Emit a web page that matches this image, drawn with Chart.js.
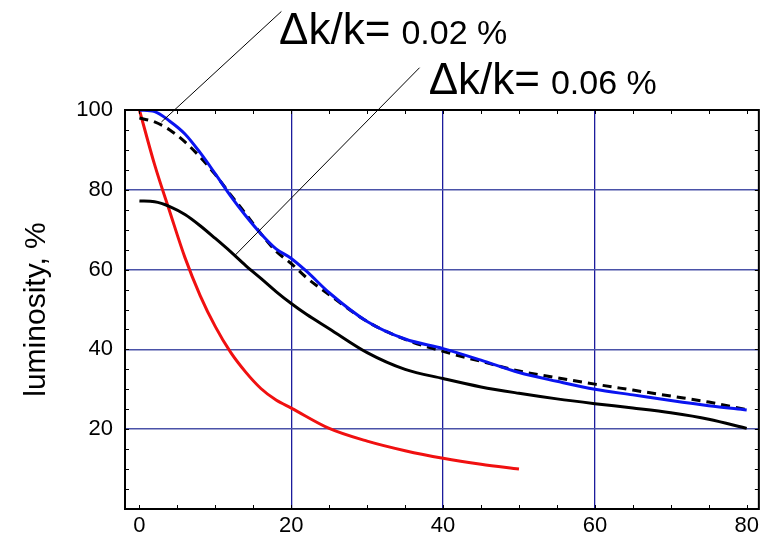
<!DOCTYPE html>
<html>
<head>
<meta charset="utf-8">
<script src="https://cdn.jsdelivr.net/npm/chart.js@4.4.1/dist/chart.umd.min.js"></script>
<style>
  html, body { margin: 0; padding: 0; background: #fff; }
  #wrap { width: 763px; height: 536px; }
</style>
</head>
<body>
<div id="wrap"><canvas id="lumChart" width="763" height="536"></canvas></div>
<script>
const xTicks = [0, 20, 40, 60, 80];
const yTicks = [20, 40, 60, 80, 100];

// common x grid for the blue, dashed and black curves
const doseX = [0, 2, 4, 6, 8, 10, 12, 14, 16, 18, 20, 22, 25, 30, 35, 40, 45, 50, 55, 60, 65, 70, 75, 80];
const blueY = [100, 99.6, 97.2, 94, 89.3, 84, 78.5, 73.5, 69, 65.2, 62.8, 59.6, 54.2, 47, 42.6, 40.2, 37.3, 34.2, 32, 30, 28.6, 27.2, 25.9, 24.8];
const dashedY = [98, 97, 95, 92, 88.2, 83.8, 78.8, 74, 69, 64.6, 61.5, 58, 53.7, 47, 42.5, 39.5, 37, 34.6, 32.9, 31.3, 29.8, 28.3, 26.8, 24.9];
const blackY = [77.2, 77, 75.8, 73.8, 71, 67.8, 64.5, 61, 57.8, 54.5, 51.5, 48.8, 45.2, 39.2, 35, 32.7, 30.6, 29, 27.6, 26.4, 25.3, 24.1, 22.5, 20.2];

const redX = [0, 2, 4, 6, 8, 10, 12, 14, 16, 18, 20, 25, 30, 35, 40, 45, 50];
const redY = [100, 86.3, 74.5, 63, 53.5, 45.7, 39.3, 34.3, 30.2, 27.3, 25.3, 20.2, 17, 14.6, 12.7, 11.2, 10];

const pts = (xs, ys) => xs.map((x, i) => ({ x: x, y: ys[i] }));

const FONT = "'Liberation Sans', Arial, Helvetica, sans-serif";
const GRID = "#1c1c9c";

// box, inward ticks and the two labelled leaders
const framePlugin = {
  id: "frame",
  afterDraw(chart) {
    const { ctx, chartArea: a, scales: { x, y } } = chart;
    ctx.save();
    ctx.strokeStyle = "#000";
    ctx.lineWidth = 1;
    ctx.beginPath();
    for (let v = 0; v <= 80; v += 5) {
      const px = Math.round(x.getPixelForValue(v)) + 0.5;
      ctx.moveTo(px, a.bottom); ctx.lineTo(px, a.bottom - 4);
      ctx.moveTo(px, a.top); ctx.lineTo(px, a.top + 4);
    }
    for (let v = 5; v < 100; v += 5) {
      const py = Math.round(y.getPixelForValue(v)) + 0.5;
      ctx.moveTo(a.left, py); ctx.lineTo(a.left + 4, py);
      ctx.moveTo(a.right, py); ctx.lineTo(a.right - 4, py);
    }
    ctx.stroke();
    ctx.lineWidth = 2;
    ctx.strokeRect(a.left, a.top, a.right - a.left, a.bottom - a.top);

    const notes = [
      { text: "0.02 %", tx: 18.4, ty: 116.5, from: [18.7, 124.7], to: [2.9, 97.0] },
      { text: "0.06 %", tx: 38.1, ty: 104.0, from: [36.9, 110.6], to: [12.6, 63.6] }
    ];
    notes.forEach((n) => {
      ctx.lineWidth = 1;
      ctx.beginPath();
      ctx.moveTo(x.getPixelForValue(n.from[0]), y.getPixelForValue(n.from[1]));
      ctx.lineTo(x.getPixelForValue(n.to[0]), y.getPixelForValue(n.to[1]));
      ctx.stroke();
      const px = x.getPixelForValue(n.tx);
      const py = y.getPixelForValue(n.ty);
      ctx.fillStyle = "#000";
      ctx.textBaseline = "alphabetic";
      ctx.textAlign = "left";
      ctx.font = "44px " + FONT;
      const head = "\u0394k/k=";
      ctx.fillText(head, px, py);
      const w = ctx.measureText(head).width;
      ctx.font = "34px " + FONT;
      ctx.fillText(n.text, px + w + 11, py);
    });
    ctx.restore();
  }
};

new Chart(document.getElementById("lumChart"), {
  type: "line",
  data: {
    datasets: [
      {
        data: pts(doseX, blueY),
        borderColor: "#0a14f0",
        borderWidth: 3
      },
      {
        data: pts(doseX, dashedY),
        borderColor: "#000",
        borderWidth: 3,
        borderDash: [9, 6]
      },
      {
        data: pts(doseX, blackY),
        borderColor: "#000",
        borderWidth: 3
      },
      {
        data: pts(redX, redY),
        borderColor: "#f01010",
        borderWidth: 3
      }
    ]
  },
  options: {
    responsive: false,
    animation: false,
    layout: { padding: { top: 110, right: 3, left: 0, bottom: 0 } },
    elements: {
      point: { radius: 0 },
      line: { cubicInterpolationMode: "monotone", fill: false }
    },
    plugins: {
      legend: { display: false },
      tooltip: { enabled: false }
    },
    scales: {
      x: {
        type: "linear",
        min: -1.9,
        max: 81.6,
        afterBuildTicks: (s) => { s.ticks = xTicks.map((v) => ({ value: v })); },
        afterFit: (s) => { s.height = 27; },
        ticks: {
          color: "#000",
          padding: 4,
          autoSkip: false,
          maxRotation: 0,
          font: { family: FONT, size: 22 }
        },
        grid: {
          drawTicks: false,
          lineWidth: 1.3,
          color: (c) => (c.tick && c.tick.value > 0 && c.tick.value < 80 ? GRID : "rgba(0,0,0,0)")
        },
        border: { display: false }
      },
      y: {
        min: 0,
        max: 100,
        afterBuildTicks: (s) => { s.ticks = yTicks.map((v) => ({ value: v })); },
        afterFit: (s) => { s.width = 125; },
        ticks: {
          color: "#000",
          padding: 12,
          font: { family: FONT, size: 22 }
        },
        grid: {
          drawTicks: false,
          lineWidth: 1.5,
          color: (c) => (c.tick && c.tick.value < 100 ? "#4a52a8" : "rgba(0,0,0,0)")
        },
        border: { display: false },
        title: {
          display: true,
          text: "luminosity, %",
          color: "#000",
          padding: { top: 19, bottom: 0 },
          font: { family: FONT, size: 30 }
        }
      }
    }
  },
  plugins: [framePlugin]
});
</script>
</body>
</html>
